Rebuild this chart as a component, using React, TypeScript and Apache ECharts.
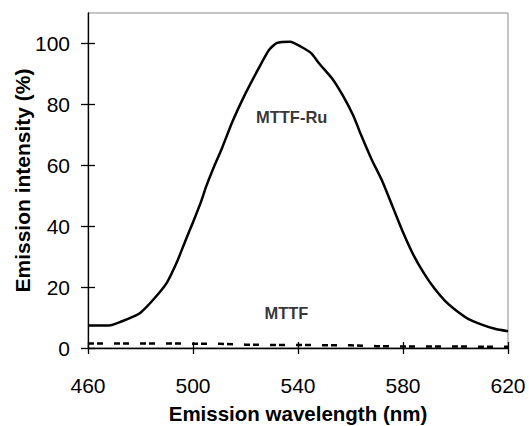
import React, { useEffect, useRef } from "react";
import * as echarts from "echarts";

// MTTF-Ru emission spectrum (solid line)
const ruWavelength = [460, 464, 468, 473, 477, 480, 485, 490, 494, 497, 500, 503, 505, 508, 511, 515, 520, 525, 529, 532, 537, 541, 545, 548, 553, 557, 561, 564, 568, 572, 576, 580, 584, 588, 592, 596, 600, 605, 610, 615, 620];
const ruIntensity = [7.4, 7.4, 7.4, 8.8, 10.2, 11.6, 16, 21.4, 28.5, 35, 41.3, 47.9, 53, 59.5, 65.5, 74.3, 83.6, 91.8, 97.9, 100.2, 100.6, 99, 96.8, 93.5, 88.5, 83, 76.4, 70, 62, 55, 46.5, 38, 30.5, 24.5, 19.5, 15.5, 12.5, 9.5, 7.7, 6.3, 5.5];

// MTTF emission (dashed line)
const mttfWavelength = [460, 470, 480, 490, 500, 510, 520, 530, 540, 550, 560, 570, 580, 590, 600, 610, 620];
const mttfIntensity = [1.5, 1.5, 1.5, 1.5, 1.4, 1.4, 1.1, 1.0, 1.0, 0.9, 0.9, 0.6, 0.5, 0.5, 0.5, 0.4, 0.4];

const xTicks = [460, 500, 540, 580, 620];
const yTicks = [0, 20, 40, 60, 80, 100];

const labelNames = ["MTTF-Ru", "MTTF"];
const labelX = [537.6, 535.6];
const labelY = [75.7, 11.4];

export default function App() {
  const ref = useRef<HTMLDivElement>(null);
  useEffect(() => {
    const chart = echarts.init(ref.current!, null, { renderer: "svg" });
    const font = "'Liberation Sans', Arial, sans-serif";
    const black = "#000";
    const baseX = { type: "value", min: 460, max: 620, gridIndex: 0, splitLine: { show: false } };
    const baseY = { type: "value", min: 0, max: 110, gridIndex: 0, splitLine: { show: false } };
    const option: any = {
      animation: false,
      backgroundColor: "#fff",
      grid: {
        left: 88, right: 21, top: 13, bottom: 78,
        containLabel: false, outerBoundsMode: "none",
        show: true, borderColor: "#8c8c8c", borderWidth: 1, backgroundColor: "transparent",
      },
      xAxis: [
        {
          ...baseX,
          position: "bottom",
          axisLine: { show: true, onZero: false, lineStyle: { color: black, width: 1.3 } },
          axisTick: { show: true, inside: false, length: 6, customValues: xTicks, lineStyle: { color: black, width: 1.3 } },
          axisLabel: { show: true, customValues: xTicks, fontSize: 21, color: black, fontFamily: font, margin: 27 },
          name: "Emission wavelength (nm)",
          nameLocation: "middle",
          nameGap: 55,
          nameMoveOverlap: false,
          nameTextStyle: { fontSize: 20.5, fontWeight: "bold", color: black, fontFamily: font },
        },
        {
          ...baseX,
          position: "bottom",
          axisLine: { show: false },
          axisTick: { show: true, inside: true, length: 6, customValues: xTicks, lineStyle: { color: black, width: 1.3 } },
          axisLabel: { show: false },
        },
      ],
      yAxis: [
        {
          ...baseY,
          position: "left",
          axisLine: { show: true, onZero: false, lineStyle: { color: black, width: 1.3 } },
          axisTick: { show: true, inside: false, length: 7, customValues: yTicks, lineStyle: { color: black, width: 1.3 } },
          axisLabel: { show: true, customValues: yTicks, fontSize: 21, color: black, fontFamily: font, margin: 18 },
          name: "Emission intensity (%)",
          nameLocation: "middle",
          nameGap: 55,
          nameRotate: 90,
          nameMoveOverlap: false,
          nameTextStyle: { fontSize: 21, fontWeight: "bold", color: black, fontFamily: font },
        },
        {
          ...baseY,
          position: "left",
          axisLine: { show: false },
          axisTick: { show: true, inside: true, length: 7, customValues: yTicks, lineStyle: { color: black, width: 1.3 } },
          axisLabel: { show: false },
        },
      ],
      series: [
        {
          type: "line",
          xAxisIndex: 0,
          yAxisIndex: 0,
          data: ruWavelength.map((x, i) => [x, ruIntensity[i]]),
          symbol: "none",
          smooth: 0.2,
          lineStyle: { color: black, width: 2.5 },
          silent: true,
          z: 3,
        },
        {
          type: "line",
          xAxisIndex: 0,
          yAxisIndex: 0,
          data: mttfWavelength.map((x, i) => [x, mttfIntensity[i]]),
          symbol: "none",
          lineStyle: { color: black, width: 2.5, type: [6, 3, 6, 11] },
          silent: true,
          z: 3,
        },
        {
          type: "scatter",
          xAxisIndex: 0,
          yAxisIndex: 0,
          symbolSize: 1,
          itemStyle: { color: "transparent" },
          silent: true,
          data: labelNames.map((n, i) => ({ name: n, value: [labelX[i], labelY[i]] })),
          label: {
            show: true,
            position: "inside",
            formatter: (p: any) => p.name,
            fontSize: 16.5,
            fontWeight: "bold",
            color: black,
            fontFamily: font,
          },
          z: 4,
        },
      ],
    };
    chart.setOption(option);
    return () => chart.dispose();
  }, []);
  return (
    <div
      ref={ref}
      style={{ position: "fixed", left: 0, top: 0, width: 529, height: 426, background: "#fff" }}
    />
  );
}
